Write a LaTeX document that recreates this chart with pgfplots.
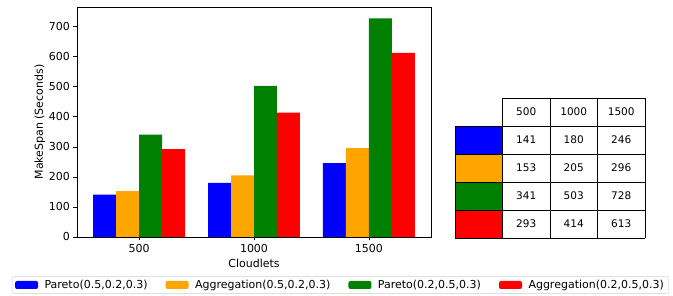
\documentclass[border=0pt]{standalone}
\usepackage{fontspec}
\setmainfont{DejaVu Sans}
\usepackage{pgfplots}
\pgfplotsset{compat=1.18}
\definecolor{mplorange}{RGB}{255,165,0}
\definecolor{mplgreen}{RGB}{0,128,0}
\definecolor{legframe}{RGB}{204,204,204}

\pgfplotstableread{
x pa agg pb aggb
0 141 153 341 293
1 180 205 503 414
2 246 296 728 613
}\datatable

\begin{document}
\begin{tikzpicture}
\useasboundingbox (0,0) rectangle (673pt,296pt);
\begin{axis}[
  at={(77pt,59pt)}, anchor=south west,
  scale only axis, width=354pt, height=230pt,
  xmin=-0.54, xmax=2.54, ymin=0, ymax=766,
  xtick={0,1,2}, xticklabels={500,1000,1500},
  ytick={0,100,...,700},
  tick align=outside, tick pos=left, major tick length=3.5pt,
  /pgf/number format/assume math mode=true,
  tick label style={font=\fontsize{11}{13}\selectfont},
  label style={font=\fontsize{11}{13}\selectfont},
  ylabel={MakeSpan (Seconds)}, xlabel={Cloudlets},
  ylabel style={at={(axis description cs:-0.105,0.5)}, anchor=center},
  xlabel style={at={(axis description cs:0.5,-0.113)}, anchor=center},
  axis line style={black, line width=0.8pt},
  every tick/.style={black, line width=0.8pt},
  ybar, bar width=0.2,
  legend image code/.code={\fill[#1] (0pt,-4pt) rectangle (23pt,4pt);},
  legend columns=4,
  legend cell align=left,
  legend style={at={(axis description cs:0.7443,-0.2087)}, anchor=center,
    draw=legframe, rounded corners=2pt, fill=white,
    font=\fontsize{11}{13}\selectfont,
    inner xsep=3pt, inner ysep=1.5pt,
    /tikz/every odd column/.append style={column sep=4.5pt},
    /tikz/every even column/.append style={column sep=16pt}},
]
\addplot[fill=blue, draw=none, bar shift=-0.3] table[x=x, y=pa] {\datatable};
\addlegendentry{Pareto(0.5,0.2,0.3)}
\addplot[fill=mplorange, draw=none, bar shift=-0.1] table[x=x, y=agg] {\datatable};
\addlegendentry{Aggregation(0.5,0.2,0.3)}
\addplot[fill=mplgreen, draw=none, bar shift=0.1] table[x=x, y=pb] {\datatable};
\addlegendentry{Pareto(0.2,0.5,0.3)}
\addplot[fill=red, draw=none, bar shift=0.3] table[x=x, y=aggb] {\datatable};
\addlegendentry{Aggregation(0.2,0.5,0.3)}
\end{axis}

\begin{axis}[
  at={(455pt,58pt)}, anchor=south west,
  scale only axis, width=190pt, height=140pt,
  xmin=0, xmax=4, ymin=0, ymax=5, hide axis, clip=false,
]
\fill[blue] (axis cs:0,3) rectangle (axis cs:1,4);
\fill[mplorange] (axis cs:0,2) rectangle (axis cs:1,3);
\fill[mplgreen] (axis cs:0,1) rectangle (axis cs:1,2);
\fill[red] (axis cs:0,0) rectangle (axis cs:1,1);
\pgfplotsinvokeforeach{1,2,3,4}{\draw[black, line width=0.8pt] (axis cs:#1,0) -- (axis cs:#1,5);}
\draw[black, line width=0.8pt] (axis cs:0,0) -- (axis cs:0,4);
\pgfplotsinvokeforeach{0,1,2,3,4}{\draw[black, line width=0.8pt] (axis cs:0,#1) -- (axis cs:4,#1);}
\draw[black, line width=0.8pt] (axis cs:1,5) -- (axis cs:4,5);
\addplot[only marks, mark=none, nodes near coords, point meta=explicit symbolic,
  nodes near coords align={center},
  every node near coord/.append style={font=\fontsize{10.5}{12}\selectfont, anchor=center, inner sep=0pt}]
  table[meta=label] {
x y label
1.5 4.5 500
2.5 4.5 1000
3.5 4.5 1500
1.5 3.5 141
2.5 3.5 180
3.5 3.5 246
1.5 2.5 153
2.5 2.5 205
3.5 2.5 296
1.5 1.5 341
2.5 1.5 503
3.5 1.5 728
1.5 0.5 293
2.5 0.5 414
3.5 0.5 613
};
\end{axis}
\end{tikzpicture}
\end{document}
